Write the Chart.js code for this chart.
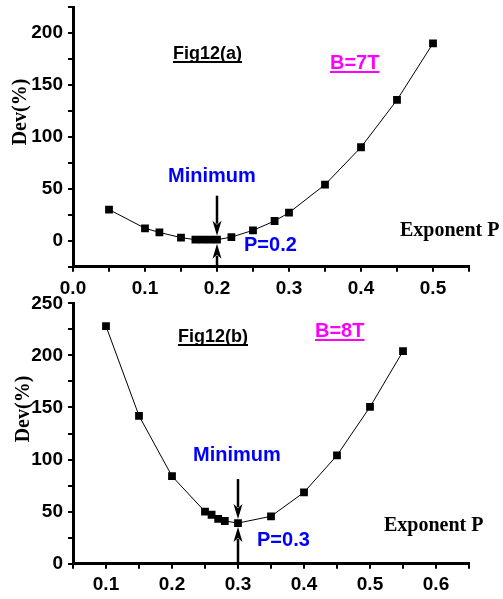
<!DOCTYPE html>
<html>
<head>
<meta charset="utf-8">
<script src="https://cdn.jsdelivr.net/npm/chart.js@4.4.0/dist/chart.umd.min.js"></script>
<style>
  html, body { margin: 0; padding: 0; background: #fff; }
  #wrap { position: relative; width: 503px; height: 599px; overflow: hidden; }
  canvas { position: absolute; left: 0; }
  #chartA { top: 0; }
  #chartB { top: 290px; }
</style>
</head>
<body>
<div id="wrap">
  <canvas id="chartA" width="503" height="300"></canvas>
  <canvas id="chartB" width="503" height="309"></canvas>
</div>
<script>
// Fig12(a), B = 7T
const pA = [0.05, 0.1, 0.12, 0.15, 0.17, 0.18, 0.19, 0.2, 0.22, 0.25, 0.28, 0.3, 0.35, 0.4, 0.45, 0.5];
const devA = [30, 12, 8, 3, 1, 1, 1, 1, 3.5, 10, 19, 27, 54, 90, 135.5, 190];
const xTicksA = [0, 0.05, 0.1, 0.15, 0.2, 0.25, 0.3, 0.35, 0.4, 0.45, 0.5, 0.55];
const yTicksA = [-25, 0, 25, 50, 75, 100, 125, 150, 175, 200, 225];
const minA = [0.2, 1];

// Fig12(b), B = 8T
const pB = [0.1, 0.15, 0.2, 0.25, 0.26, 0.27, 0.28, 0.3, 0.35, 0.4, 0.45, 0.5, 0.55];
const devB = [228, 142, 84, 50, 47, 43, 41, 39, 45.5, 68.5, 104, 150.5, 204];
const xTicksB = [0.05, 0.1, 0.15, 0.2, 0.25, 0.3, 0.35, 0.4, 0.45, 0.5, 0.55, 0.6, 0.65];
const yTicksB = [0, 25, 50, 75, 100, 125, 150, 175, 200, 225, 250];
const minB = [0.3, 39];

const SANS = 'Arial, "Liberation Sans", sans-serif';
const SERIF = '"Times New Roman", "Liberation Serif", serif';

// text + arrow overlay, positions in canvas pixels
function notesPlugin(notes, minPt) {
    return {
        id: 'notes',
        afterDraw(chart) {
            const ctx = chart.ctx;
            ctx.save();
            notes.forEach(n => {
                ctx.font = n.font;
                ctx.fillStyle = n.color;
                ctx.textBaseline = 'alphabetic';
                if (n.rotate) {
                    ctx.save();
                    ctx.translate(n.x, n.y);
                    ctx.rotate(-Math.PI / 2);
                    ctx.textAlign = 'center';
                    ctx.fillText(n.text, 0, 0);
                    ctx.restore();
                    return;
                }
                ctx.textAlign = 'left';
                ctx.fillText(n.text, n.x, n.y);
                if (n.underline) {
                    const w = ctx.measureText(n.text).width;
                    ctx.fillRect(n.x, n.y + 2, w, 2);
                }
            });

            // arrows pointing at the minimum
            const xs = chart.scales.x, ys = chart.scales.y;
            const px = xs.getPixelForValue(minPt[0]);
            const py = ys.getPixelForValue(minPt[1]);
            ctx.strokeStyle = '#000';
            ctx.fillStyle = '#000';
            ctx.lineWidth = 2.5;
            const arrow = (from, tip) => {
                const dir = tip > from ? 1 : -1;
                ctx.beginPath();
                ctx.moveTo(px, from);
                ctx.lineTo(px, tip - dir * 12);
                ctx.stroke();
                ctx.beginPath();
                ctx.moveTo(px, tip);
                ctx.lineTo(px - 4.5, tip - dir * 15);
                ctx.lineTo(px, tip - dir * 11);
                ctx.lineTo(px + 4.5, tip - dir * 15);
                ctx.closePath();
                ctx.fill();
            };
            arrow(py - 44, py - 4);
            arrow(chart.chartArea.bottom, py + 4);
            ctx.restore();
        }
    };
}

function makeChart(id, xs, ys, xTicks, yTicks, area, notes, minPt) {
    const tickFont = { family: SANS, weight: 'bold', size: 19 };
    return new Chart(document.getElementById(id), {
        type: 'scatter',
        data: {
            datasets: [{
                data: xs.map((x, i) => ({ x: x, y: ys[i] })),
                showLine: true,
                borderColor: '#000',
                borderWidth: 1,
                backgroundColor: '#000',
                pointStyle: 'rect',
                pointRadius: 5.5,
                pointBorderWidth: 0,
                tension: 0
            }]
        },
        options: {
            responsive: false,
            animation: false,
            layout: { padding: { top: area.top, right: area.right, left: 0, bottom: 0 } },
            plugins: { legend: { display: false }, tooltip: { enabled: false } },
            scales: {
                x: {
                    type: 'linear',
                    min: xTicks[0],
                    max: xTicks[xTicks.length - 1],
                    afterBuildTicks: s => { s.ticks = xTicks.map(v => ({ value: v })); },
                    afterFit: s => { s.height = area.xh; s.paddingLeft = 0; s.paddingRight = 0; },
                    grid: { drawOnChartArea: false, color: '#000', lineWidth: 2, tickLength: 5 },
                    border: { color: '#000', width: 3 },
                    ticks: {
                        color: '#000',
                        font: tickFont,
                        padding: area.xpad,
                        autoSkip: false,
                        maxRotation: 0,
                        callback: v => Math.round(v * 100) % 10 === 0 ? v.toFixed(1) : ''
                    }
                },
                y: {
                    type: 'linear',
                    min: yTicks[0],
                    max: yTicks[yTicks.length - 1],
                    afterBuildTicks: s => { s.ticks = yTicks.map(v => ({ value: v })); },
                    afterFit: s => { s.width = area.left; s.paddingTop = 0; s.paddingBottom = 0; },
                    grid: { drawOnChartArea: false, color: '#000', lineWidth: 2, tickLength: 5 },
                    border: { color: '#000', width: 3 },
                    ticks: {
                        color: '#000',
                        font: tickFont,
                        padding: 5,
                        autoSkip: false,
                        callback: v => (v >= 0 && v % 50 === 0) ? v : ''
                    }
                }
            }
        },
        plugins: [notesPlugin(notes, minPt)]
    });
}

const boldSans = size => 'bold ' + size + 'px ' + SANS;
const boldSerif = size => 'bold ' + size + 'px ' + SERIF;

makeChart('chartA', pA, devA, xTicksA, yTicksA,
    { top: 7, right: 34, left: 73, xh: 33.3, xpad: 6 },
    [
        { text: 'Fig12(a)', x: 173, y: 59, font: boldSans(18), color: '#000', underline: true },
        { text: 'B=7T', x: 330, y: 69, font: boldSans(20), color: '#ff00ff', underline: true },
        { text: 'Minimum', x: 168, y: 182, font: boldSans(20), color: '#0000ff' },
        { text: 'P=0.2', x: 244, y: 251, font: boldSans(20), color: '#0000ff' },
        { text: 'Exponent P', x: 400, y: 236, font: boldSerif(20), color: '#000' },
        { text: 'Dev(%)', x: 26, y: 112, font: boldSerif(20), color: '#000', rotate: true }
    ], minA);

makeChart('chartB', pB, devB, xTicksB, yTicksB,
    { top: 13.3, right: 34, left: 73, xh: 35.3, xpad: 5 },
    [
        { text: 'Fig12(b)', x: 178, y: 52, font: boldSans(18), color: '#000', underline: true },
        { text: 'B=8T', x: 315, y: 47, font: boldSans(20), color: '#ff00ff', underline: true },
        { text: 'Minimum', x: 193, y: 171, font: boldSans(20), color: '#0000ff' },
        { text: 'P=0.3', x: 257, y: 256, font: boldSans(20), color: '#0000ff' },
        { text: 'Exponent P', x: 384, y: 241, font: boldSerif(20), color: '#000' },
        { text: 'Dev(%)', x: 29, y: 119, font: boldSerif(20), color: '#000', rotate: true }
    ], minB);
</script>
</body>
</html>
